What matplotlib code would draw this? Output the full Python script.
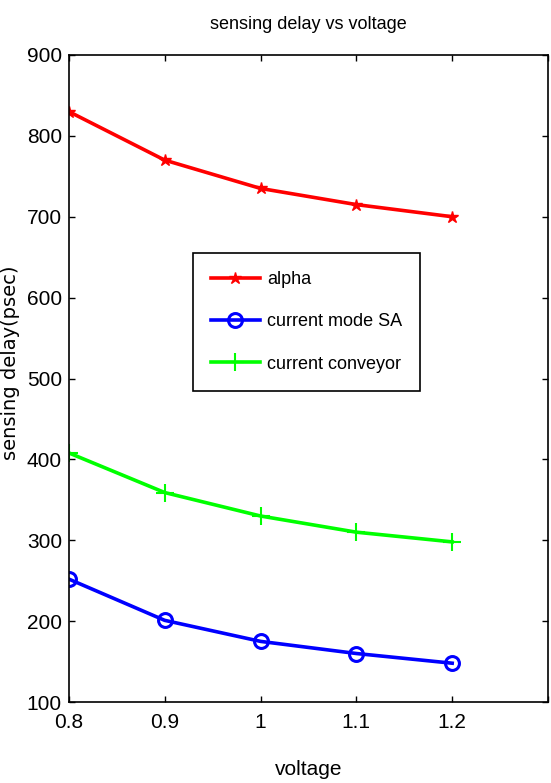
import matplotlib
matplotlib.use('Agg')
from matplotlib import pyplot as plt

voltage = [0.8, 0.9, 1.0, 1.1, 1.2]
alpha = [830, 770, 735, 715, 700]
current_mode_sa = [252, 201, 175, 160, 148]
current_conveyor = [408, 359, 330, 310, 298]

font = 'Liberation Sans'

fig = plt.figure(figsize=(5.51, 7.83), dpi=100)
ax = fig.add_axes([0.125, 0.1034, 0.8696, 0.8264])

ax.plot(voltage, alpha, color='red', lw=2.6, marker='*', ms=9, label='alpha')
ax.plot(voltage, current_mode_sa, color='blue', lw=2.6, marker='o', ms=10,
        mfc='none', mew=2.2, label='current mode SA')
ax.plot(voltage, current_conveyor, color='#00ff00', lw=2.6, marker='+', ms=13,
        mew=1.5, label='current conveyor')

ax.set_xlim(0.8, 1.3)
ax.set_ylim(100, 900)
ax.set_xticks([0.8, 0.9, 1.0, 1.1, 1.2, 1.3])
ax.set_xticklabels(['0.8', '0.9', '1', '1.1', '1.2', ''])
ax.set_yticks(range(100, 1000, 100))
ax.tick_params(direction='in', top=True, right=True, length=4, width=1,
               labelsize=15)
ax.tick_params(axis='x', pad=8)
ax.tick_params(axis='y', pad=5)
for lab in ax.get_xticklabels() + ax.get_yticklabels():
    lab.set_family(font)
for s in ax.spines.values():
    s.set_linewidth(1.2)

ax.set_title('sensing delay vs voltage', family=font, fontsize=13, pad=19)
ax.set_xlabel('voltage', family=font, fontsize=15, labelpad=20)
ax.set_ylabel('sensing delay(psec)', fontsize=14)
ax.yaxis.set_label_coords(-0.102, 0.524)

leg = ax.legend(loc='upper left', bbox_to_anchor=(0.259, 0.694), fancybox=False,
                edgecolor='black', framealpha=1, prop={'family': font, 'size': 13},
                handlelength=2.7, handletextpad=0.4, borderpad=1.0,
                labelspacing=1.4, borderaxespad=0)
leg.get_frame().set_linewidth(1.2)

fig.savefig('out.png', dpi=100)
